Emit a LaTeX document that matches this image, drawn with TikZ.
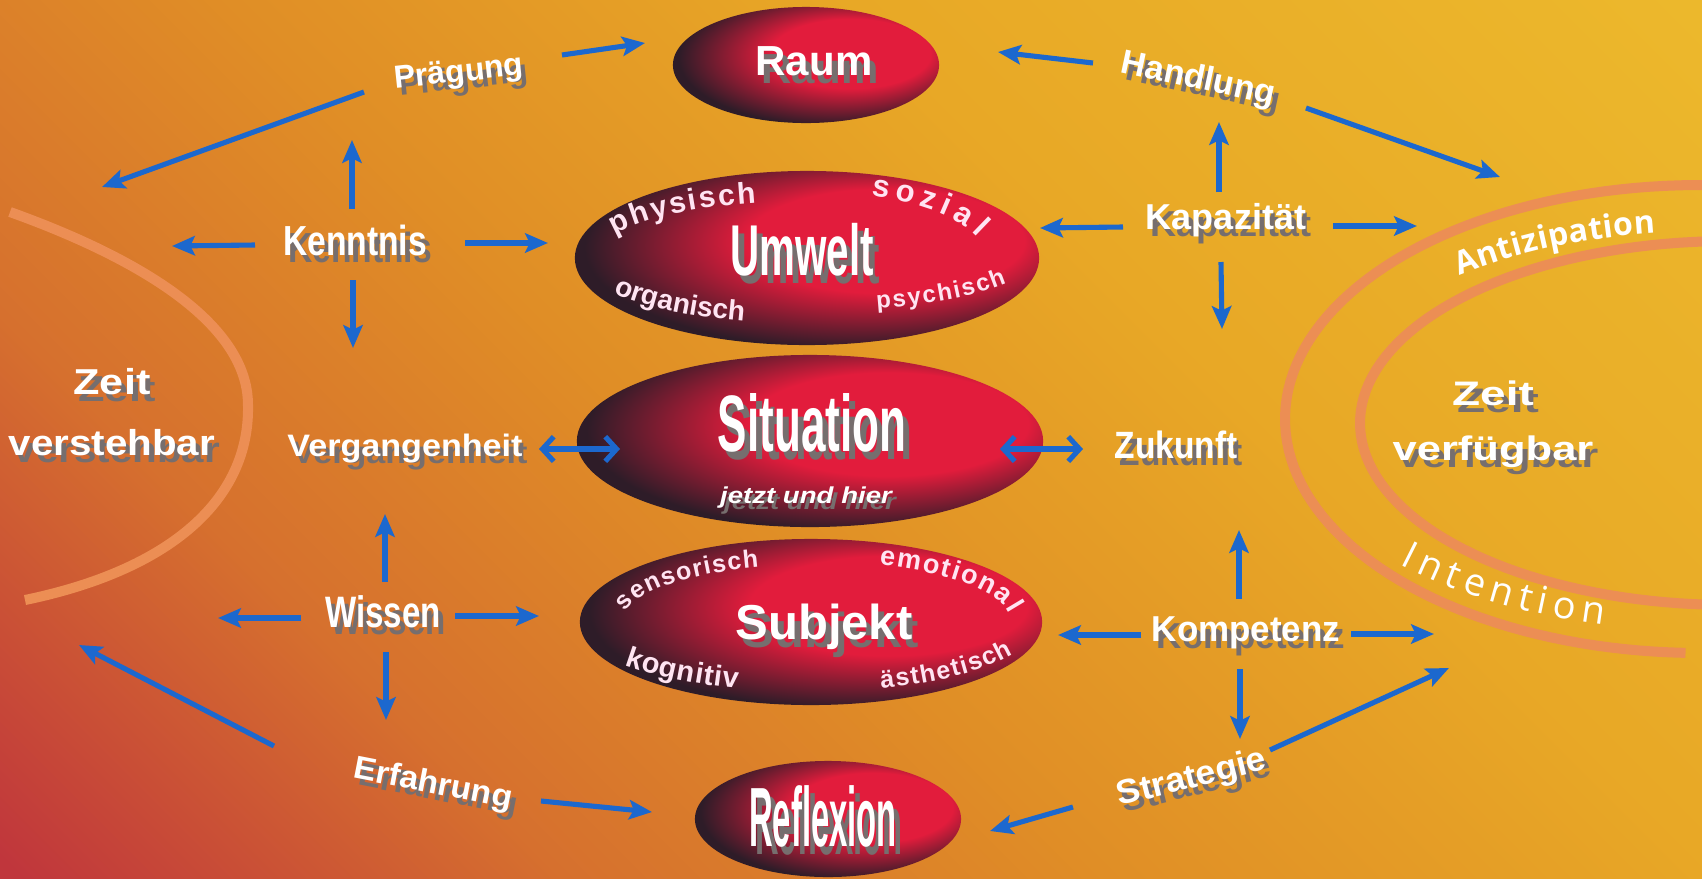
\documentclass[tikz,border=0pt]{standalone}
\usepackage{fontspec}
\setmainfont{Liberation Sans}
\newfontfamily\osans{Open Sans}
\usetikzlibrary{arrows.meta,shapes.geometric,decorations.text}
\definecolor{arrblue}{RGB}{28,104,206}
\definecolor{shadowc}{RGB}{118,110,110}
\definecolor{arcc}{RGB}{236,142,84}
\definecolor{ellred}{RGB}{226,28,60}
\definecolor{elldark}{RGB}{46,28,40}
\definecolor{bgred}{RGB}{192,54,60}
\definecolor{bgredor}{RGB}{214,112,46}
\definecolor{bgorange}{RGB}{224,142,38}
\definecolor{bgoy}{RGB}{232,168,38}
\definecolor{bgyellow}{RGB}{236,184,44}
\definecolor{pinkw}{RGB}{255,228,242}
\pgfdeclareradialshading{ellsh}{\pgfpoint{12bp}{7bp}}{color(0bp)=(ellred); color(15bp)=(ellred); color(29bp)=(elldark); color(50bp)=(elldark)}
\pgfdeclarehorizontalshading{bgsh}{100bp}{color(0bp)=(bgred); color(15bp)=(bgred); color(30bp)=(bgredor); color(45bp)=(bgorange); color(62bp)=(bgoy); color(85bp)=(bgyellow); color(100bp)=(bgyellow)}
\newcommand\pxfont[1]{\fontsize{\the\dimexpr 0.2845pt*#1\relax}{\the\dimexpr 0.34pt*#1\relax}\selectfont}
\newcommand\shlabel[4]{%
  \node[shd,shift={(5,7)},#1] at #3 {#4};
  \node[lbl,#1] (#2) at #3 {#4};}
\newcommand\shbig[4]{%
  \node[shd,anchor=base,shift={(6,8)},#1] at #3 {#4};
  \node[lbl,anchor=base,#1] (#2) at #3 {#4};}
\tikzset{
  arr/.style={draw=arrblue,line width=1.45pt,-{Stealth[length=6.5pt,width=5.5pt,inset=1.3pt]}},
  darr/.style={draw=arrblue,line width=1.45pt,{Straight Barb[length=3.2pt,width=7pt]}-{Straight Barb[length=3.2pt,width=7pt]}},
  lbl/.style={inner sep=0pt,text=white},
  shd/.style={inner sep=0pt,text=shadowc},
  ell/.style={ellipse,inner sep=0pt,shade,shading=ellsh},
  arcline/.style={draw=arcc,line width=2.85pt},
  ctxt/.style={decorate,decoration={text along path,text align=fit to path,text={#1}}},
}
\begin{document}
\begin{tikzpicture}[x=0.01cm,y=-0.01cm]
\clip (0,0) rectangle (1702,878);
\shade[shading=bgsh,shading angle=45] (0,0) rectangle (1702,878);

% time arcs
\draw[arcline] (10,212) .. controls (130,255) and (248,320) .. (248,405) .. controls (250,500) and (170,570) .. (25,600);
\draw[arcline] plot[domain=92:280,samples=90] ({1700+415*cos(\x)},{419+234*sin(\x)});
\draw[arcline] plot[domain=80:280,samples=90] ({1730+370*cos(\x)},{423+182*sin(\x)});

% ellipses
\node[ell,minimum width=2.66cm,minimum height=1.16cm] (raum) at (806,65) {};
\node[ell,minimum width=4.64cm,minimum height=1.74cm] (umwelt) at (807,258) {};
\node[ell,minimum width=4.66cm,minimum height=1.72cm] (situation) at (810,441) {};
\node[ell,minimum width=4.62cm,minimum height=1.66cm] (subjekt) at (811,622) {};
\node[ell,minimum width=2.66cm,minimum height=1.16cm] (reflexion) at (828,819) {};

% texts in ellipses
\shbig{font=\pxfont{42}\bfseries}{raumT}{(814,75)}{Raum}
\shbig{font=\pxfont{72}\bfseries}{umweltT}{(802,275)}{\scalebox{0.56}[1]{Umwelt}}
\shbig{font=\pxfont{80}\bfseries}{situationT}{(812,451)}{\scalebox{0.55}[1]{Situation}}
\node[shd,anchor=base,shift={(4,6)},font=\pxfont{23}\bfseries\itshape] at (806,503) {\scalebox{1.2}[1]{jetzt und hier}};
\node[lbl,anchor=base,font=\pxfont{23}\bfseries\itshape] (jetzt) at (806,503) {\scalebox{1.2}[1]{jetzt und hier}};
\shbig{font=\pxfont{49}\bfseries}{subjektT}{(824,639)}{Subjekt}
\shbig{font=\pxfont{84}\bfseries}{reflexionT}{(823,846)}{\scalebox{0.39}[1]{Reflexion}}

% curved texts
\path[ctxt={|\pxfont{30}\bfseries\color{pinkw}|physisch}] plot[domain=0:1,samples=40] ({807+210*cos(204+52*\x)},{258+57*sin(204+52*\x)});
\path[ctxt={|\pxfont{31}\bfseries\color{pinkw}|sozial}] plot[domain=0:1,samples=40] ({807+179*cos(291+51*\x)},{258+67*sin(291+51*\x)});
\path[ctxt={|\pxfont{28}\bfseries\color{pinkw}|organisch}] plot[domain=0:1,samples=40] ({807+228*cos(148-42*\x)},{258+66*sin(148-42*\x)});
\path[ctxt={|\pxfont{24}\bfseries\color{pinkw}|psychisch}] plot[domain=0:1,samples=40] ({807+226*cos(72-44*\x)},{258+53*sin(72-44*\x)});
\path[ctxt={|\pxfont{25}\bfseries\color{pinkw}|sensorisch}] plot[domain=0:1,samples=40] ({811+189*cos(190+64*\x)},{622+57*sin(190+64*\x)});
\path[ctxt={|\pxfont{27}\bfseries\color{pinkw}|emotional}] plot[domain=0:1,samples=40] ({811+200*cos(290+62*\x)},{622+61*sin(290+62*\x)});
\path[ctxt={|\pxfont{29}\bfseries\color{pinkw}|kognitiv}] plot[domain=0:1,samples=40] ({811+237*cos(142-34*\x)},{622+70*sin(142-34*\x)});
\path[ctxt={|\pxfont{25}\bfseries\color{pinkw}|ästhetisch}] plot[domain=0:1,samples=40] ({811+227*cos(72-45*\x)},{622+70*sin(72-45*\x)});
\path[ctxt={|\osans\pxfont{32}\bfseries\color{white}|Antizipation}] plot[domain=0:1,samples=40] ({1710+390*cos(230+32*\x)},{421+190*sin(230+32*\x)});
\path[ctxt={|\osans\pxfont{38}\color{white}|Intention}] plot[domain=0:1,samples=40] ({1715+431*cos(137-32*\x)},{421+211*sin(137-32*\x)});

% labels
\shlabel{font=\pxfont{32}\bfseries,rotate=6}{praegung}{(459,74)}{Prägung}
\shlabel{font=\pxfont{34}\bfseries,rotate=-12}{handlung}{(1198,80)}{Handlung}
\shlabel{font=\pxfont{42}\bfseries}{kenntnis}{(355,240)}{\scalebox{0.8}[1]{Kenntnis}}
\shlabel{font=\pxfont{36}\bfseries}{kapazitaet}{(1226,220)}{Kapazität}
\shlabel{font=\pxfont{31}\bfseries}{vergangenheit}{(405,449)}{\scalebox{1.1}[1]{Vergangenheit}}
\shlabel{font=\pxfont{38}\bfseries}{zukunft}{(1176,445)}{\scalebox{0.88}[1]{Zukunft}}
\shlabel{font=\pxfont{44}\bfseries}{wissen}{(383,612)}{\scalebox{0.75}[1]{Wissen}}
\shlabel{font=\pxfont{36}\bfseries}{kompetenz}{(1246,633)}{\scalebox{0.97}[1]{Kompetenz}}
\shlabel{font=\pxfont{32}\bfseries,rotate=-11}{erfahrung}{(433,785)}{\scalebox{1.05}[1]{Erfahrung}}
\shlabel{font=\pxfont{34}\bfseries,rotate=14}{strategie}{(1192,779)}{\scalebox{1.05}[1]{Strategie}}
\shlabel{font=\pxfont{36}\bfseries,align=center}{zeitl}{(112,412)}{\scalebox{1.2}[1]{Zeit}\\[5pt]\scalebox{1.12}[1]{verstehbar}}
\shlabel{font=\pxfont{34}\bfseries,align=center}{zeitr}{(1493,424)}{\scalebox{1.35}[1]{Zeit}\\[4pt]\scalebox{1.28}[1]{verfügbar}}

% free arrow ends
\coordinate (pL) at (102,187);
\coordinate (kL) at (172,246);
\coordinate (kapR) at (1417,226);
\coordinate (hR) at (1500,177);
\coordinate (wL) at (218,618);
\coordinate (komR) at (1434,634);
\coordinate (eL) at (79,645);
\coordinate (sR) at (1449,668);

% arrows
\draw[arr] ([shift={(103,-19)}]praegung.center) -- ([shift={(-161,-22)}]raum.center);
\draw[arr] ([shift={(-95,18)}]praegung.center) -- (pL);
\draw[arr] ([shift={(-3,-31)}]kenntnis.center) -- ([shift={(-107,66)}]praegung.center);
\draw[arr] ([shift={(-100,5)}]kenntnis.center) -- (kL);
\draw[arr] ([shift={(110,3)}]kenntnis.center) -- ([shift={(-259,-15)}]umwelt.center);
\draw[arr] ([shift={(-2,40)}]kenntnis.center) -- ([shift={(-52,-101)}]vergangenheit.center);
\draw[darr] ([shift={(134,0)}]vergangenheit.center) -- ([shift={(-190,8)}]situation.center);
\draw[arr] ([shift={(2,-30)}]wissen.center) -- ([shift={(-20,65)}]vergangenheit.center);
\draw[arr] ([shift={(-82,6)}]wissen.center) -- (wL);
\draw[arr] ([shift={(72,4)}]wissen.center) -- ([shift={(-272,-6)}]subjekt.center);
\draw[arr] ([shift={(3,40)}]wissen.center) -- ([shift={(-47,-65)}]erfahrung.center);
\draw[arr] ([shift={(-159,-39)}]erfahrung.center) -- (eL);
\draw[arr] ([shift={(108,16)}]erfahrung.center) -- ([shift={(-176,-7)}]reflexion.center);
\draw[arr] ([shift={(-105,-17)}]handlung.center) -- ([shift={(192,-13)}]raum.center);
\draw[arr] ([shift={(108,28)}]handlung.center) -- (hR);
\draw[arr] ([shift={(-7,-28)}]kapazitaet.center) -- ([shift={(21,42)}]handlung.center);
\draw[arr] ([shift={(-103,7)}]kapazitaet.center) -- ([shift={(233,-30)}]umwelt.center);
\draw[arr] ([shift={(107,6)}]kapazitaet.center) -- (kapR);
\draw[arr] ([shift={(-5,42)}]kapazitaet.center) -- ([shift={(46,-116)}]zukunft.center);
\draw[darr] ([shift={(-93,4)}]zukunft.center) -- ([shift={(190,8)}]situation.center);
\draw[arr] ([shift={(-7,-34)}]kompetenz.center) -- ([shift={(63,85)}]zukunft.center);
\draw[arr] ([shift={(-105,2)}]kompetenz.center) -- ([shift={(247,13)}]subjekt.center);
\draw[arr] ([shift={(105,1)}]kompetenz.center) -- (komR);
\draw[arr] ([shift={(-6,36)}]kompetenz.center) -- ([shift={(48,-40)}]strategie.center);
\draw[arr] ([shift={(78,-29)}]strategie.center) -- (sR);
\draw[arr] ([shift={(-119,28)}]strategie.center) -- ([shift={(162,12)}]reflexion.center);
\end{tikzpicture}
\end{document}
